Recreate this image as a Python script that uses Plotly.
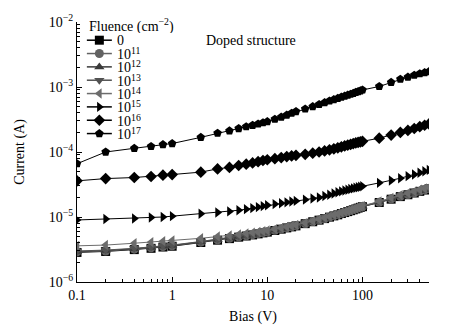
import plotly.graph_objects as go

bias = [0.1, 0.2, 0.4, 0.6, 0.8, 1, 2, 3, 4, 5, 6, 7, 8, 9, 10, 12, 14, 16, 18, 20,
        25, 30, 35, 40, 45, 50, 55, 60, 65, 70, 75, 80, 85, 90, 95, 100,
        150, 200, 250, 300, 350, 400, 450, 500]

i_0 = [2.85e-6, 2.95e-6, 3.15e-6, 3.3e-6, 3.45e-6, 3.55e-6, 4.05e-6, 4.4e-6, 4.65e-6, 4.9e-6,
       5.1e-6, 5.3e-6, 5.5e-6, 5.7e-6, 5.85e-6, 6.2e-6, 6.5e-6, 6.8e-6, 7.05e-6, 7.3e-6,
       7.9e-6, 8.45e-6, 8.95e-6, 9.45e-6, 9.95e-6, 1.04e-5, 1.08e-5, 1.13e-5, 1.17e-5, 1.21e-5,
       1.25e-5, 1.29e-5, 1.33e-5, 1.37e-5, 1.41e-5, 1.44e-5,
       1.67e-5, 1.88e-5, 2.06e-5, 2.2e-5, 2.34e-5, 2.48e-5, 2.6e-5, 2.72e-5]
i_1e11 = [2.9e-6, 3.0e-6, 3.2e-6, 3.35e-6, 3.5e-6, 3.6e-6, 4.1e-6, 4.45e-6, 4.7e-6, 4.95e-6,
          5.15e-6, 5.35e-6, 5.55e-6, 5.75e-6, 5.9e-6, 6.25e-6, 6.55e-6, 6.85e-6, 7.1e-6, 7.35e-6,
          7.95e-6, 8.5e-6, 9.0e-6, 9.5e-6, 1.0e-5, 1.05e-5, 1.09e-5, 1.14e-5, 1.18e-5, 1.22e-5,
          1.26e-5, 1.3e-5, 1.34e-5, 1.38e-5, 1.42e-5, 1.45e-5,
          1.68e-5, 1.9e-5, 2.08e-5, 2.22e-5, 2.36e-5, 2.5e-5, 2.62e-5, 2.75e-5]
i_1e12 = [2.95e-6, 3.05e-6, 3.25e-6, 3.4e-6, 3.55e-6, 3.65e-6, 4.15e-6, 4.5e-6, 4.75e-6, 5.0e-6,
          5.2e-6, 5.4e-6, 5.6e-6, 5.8e-6, 5.95e-6, 6.3e-6, 6.6e-6, 6.9e-6, 7.15e-6, 7.4e-6,
          8.0e-6, 8.55e-6, 9.05e-6, 9.55e-6, 1.005e-5, 1.055e-5, 1.1e-5, 1.15e-5, 1.19e-5, 1.23e-5,
          1.27e-5, 1.31e-5, 1.35e-5, 1.39e-5, 1.43e-5, 1.46e-5,
          1.7e-5, 1.92e-5, 2.1e-5, 2.25e-5, 2.4e-5, 2.54e-5, 2.66e-5, 2.78e-5]
i_1e13 = [3.0e-6, 3.1e-6, 3.3e-6, 3.45e-6, 3.6e-6, 3.7e-6, 4.2e-6, 4.55e-6, 4.8e-6, 5.05e-6,
          5.25e-6, 5.45e-6, 5.65e-6, 5.85e-6, 6.0e-6, 6.35e-6, 6.65e-6, 6.95e-6, 7.2e-6, 7.45e-6,
          8.05e-6, 8.6e-6, 9.1e-6, 9.6e-6, 1.01e-5, 1.06e-5, 1.1e-5, 1.15e-5, 1.19e-5, 1.23e-5,
          1.27e-5, 1.31e-5, 1.35e-5, 1.39e-5, 1.43e-5, 1.47e-5,
          1.71e-5, 1.94e-5, 2.12e-5, 2.28e-5, 2.42e-5, 2.56e-5, 2.68e-5, 2.8e-5]
i_1e14 = [3.6e-6, 3.7e-6, 3.95e-6, 4.1e-6, 4.25e-6, 4.35e-6, 4.7e-6, 5.0e-6, 5.2e-6, 5.4e-6,
          5.6e-6, 5.75e-6, 5.9e-6, 6.05e-6, 6.2e-6, 6.5e-6, 6.8e-6, 7.05e-6, 7.3e-6, 7.55e-6,
          8.1e-6, 8.7e-6, 9.2e-6, 9.7e-6, 1.02e-5, 1.07e-5, 1.11e-5, 1.16e-5, 1.2e-5, 1.24e-5,
          1.28e-5, 1.32e-5, 1.36e-5, 1.4e-5, 1.44e-5, 1.48e-5,
          1.74e-5, 1.97e-5, 2.16e-5, 2.32e-5, 2.47e-5, 2.62e-5, 2.74e-5, 2.86e-5]
i_1e15 = [9.0e-6, 9.3e-6, 9.5e-6, 9.8e-6, 1.0e-5, 1.03e-5, 1.12e-5, 1.17e-5, 1.22e-5, 1.27e-5,
          1.32e-5, 1.37e-5, 1.42e-5, 1.47e-5, 1.52e-5, 1.58e-5, 1.63e-5, 1.68e-5, 1.73e-5, 1.77e-5,
          1.85e-5, 1.93e-5, 2.0e-5, 2.1e-5, 2.2e-5, 2.3e-5, 2.4e-5, 2.48e-5, 2.56e-5, 2.63e-5,
          2.7e-5, 2.76e-5, 2.82e-5, 2.87e-5, 2.92e-5, 2.97e-5,
          3.35e-5, 3.65e-5, 3.95e-5, 4.25e-5, 4.5e-5, 4.8e-5, 5.05e-5, 5.3e-5]
i_1e16 = [3.6e-5, 3.9e-5, 4.05e-5, 4.2e-5, 4.4e-5, 4.5e-5, 4.9e-5, 5.5e-5, 5.8e-5, 6.2e-5,
          6.5e-5, 6.8e-5, 7.1e-5, 7.4e-5, 7.6e-5, 7.9e-5, 8.2e-5, 8.5e-5, 8.7e-5, 8.9e-5,
          9.2e-5, 9.6e-5, 1.0e-4, 1.04e-4, 1.08e-4, 1.12e-4, 1.16e-4, 1.2e-4, 1.24e-4, 1.28e-4,
          1.31e-4, 1.35e-4, 1.38e-4, 1.41e-4, 1.43e-4, 1.46e-4,
          1.63e-4, 1.82e-4, 2.0e-4, 2.15e-4, 2.3e-4, 2.45e-4, 2.58e-4, 2.7e-4]
i_1e17 = [6.6e-5, 1.0e-4, 1.14e-4, 1.22e-4, 1.3e-4, 1.35e-4, 1.68e-4, 1.95e-4, 2.12e-4, 2.3e-4,
          2.45e-4, 2.58e-4, 2.7e-4, 2.82e-4, 2.94e-4, 3.2e-4, 3.45e-4, 3.7e-4, 3.95e-4, 4.2e-4,
          4.6e-4, 5.0e-4, 5.4e-4, 5.75e-4, 6.1e-4, 6.4e-4, 6.7e-4, 7.0e-4, 7.25e-4, 7.5e-4,
          7.75e-4, 8.0e-4, 8.3e-4, 8.5e-4, 8.75e-4, 9.0e-4,
          1.02e-3, 1.18e-3, 1.32e-3, 1.42e-3, 1.52e-3, 1.6e-3, 1.67e-3, 1.73e-3]

series_names = ["0", "10<sup>11</sup>", "10<sup>12</sup>", "10<sup>13</sup>",
                "10<sup>14</sup>", "10<sup>15</sup>", "10<sup>16</sup>", "10<sup>17</sup>"]
series_values = [i_0, i_1e11, i_1e12, i_1e13, i_1e14, i_1e15, i_1e16, i_1e17]
series_symbols = ["square", "circle", "triangle-up", "triangle-down", "triangle-left",
                  "triangle-right", "diamond", "pentagon"]
series_colors = ["#000000", "#626262", "#3a3a3a", "#525252", "#6c6c6c",
                 "#000000", "#000000", "#000000"]

x_tick_vals = [0.1, 1, 10, 100]
x_tick_text = ["0.1", "1", "10", "100"]
x_minor_vals = [0.2, 0.3, 0.4, 0.5, 0.6, 0.7, 0.8, 0.9, 2, 3, 4, 5, 6, 7, 8, 9,
                20, 30, 40, 50, 60, 70, 80, 90, 200, 300, 400, 500]
y_tick_vals = [1e-6, 1e-5, 1e-4, 1e-3, 1e-2]
y_tick_text = ["10<sup>\u22126</sup>", "10<sup>\u22125</sup>", "10<sup>\u22124</sup>",
               "10<sup>\u22123</sup>", "10<sup>\u22122</sup>"]
y_minor_vals = [m * 10.0 ** e for e in range(-6, -2) for m in range(2, 10)]

FONT = "Liberation Serif"

# compact legend layout (fractions of the plot area)
LEG_TITLE_Y = 0.985
LEG_ROW0_Y = 0.930
LEG_ROW_STEP = 0.0513
LEG_LINE_X0, LEG_LINE_X1, LEG_MARK_X = 0.028, 0.099, 0.0635
LEG_TEXT_X = 0.108

fig = go.Figure()
for name, vals, sym, col in zip(series_names, series_values, series_symbols, series_colors):
    fig.add_trace(go.Scatter(
        x=bias, y=vals, name=name, mode="lines+markers", showlegend=False,
        line=dict(color=col, width=1),
        marker=dict(symbol=sym, size=9, color=col, line=dict(width=0)),
    ))

for k, (name, sym, col) in enumerate(zip(series_names, series_symbols, series_colors)):
    yk = LEG_ROW0_Y - k * LEG_ROW_STEP
    fig.add_shape(type="line", xref="x domain", yref="y domain",
                  x0=LEG_LINE_X0, x1=LEG_LINE_X1, y0=yk, y1=yk,
                  line=dict(color=col, width=1.5))
    fig.add_trace(go.Scatter(
        x=[LEG_MARK_X], y=[yk], xaxis="x2", yaxis="y2", mode="markers", showlegend=False,
        marker=dict(symbol=sym, size=9, color=col, line=dict(width=0)), hoverinfo="skip",
    ))
    fig.add_annotation(text=name, xref="x domain", yref="y domain", x=LEG_TEXT_X, y=yk,
                       xanchor="left", yanchor="middle", showarrow=False, height=13,
                       font=dict(family=FONT, size=14, color="black"))

fig.add_annotation(text="Fluence (cm<sup>\u22122</sup>)", xref="x domain", yref="y domain",
                   x=0.028, y=LEG_TITLE_Y, xanchor="left", yanchor="middle", showarrow=False,
                   height=15, font=dict(family=FONT, size=14, color="black"))

fig.add_annotation(
    text="Doped structure", xref="paper", yref="paper", x=0.36, y=0.93,
    xanchor="left", yanchor="middle", showarrow=False,
    font=dict(family=FONT, size=14, color="black"),
)

axis_common = dict(
    showgrid=False, zeroline=False, showline=True, linecolor="black", linewidth=1,
    ticks="inside", ticklen=5, tickcolor="black", mirror=False,
    tickfont=dict(family=FONT, size=14, color="black"),
)

fig.update_layout(
    width=458, height=333,
    margin=dict(l=77, r=29, t=22, b=51),
    paper_bgcolor="white", plot_bgcolor="white",
    font=dict(family=FONT, size=14, color="black"),
    showlegend=False,
    xaxis=dict(
        type="log", range=[-1, 2.699], tickmode="array", tickvals=x_tick_vals, ticktext=x_tick_text,
        minor=dict(tickmode="array", tickvals=x_minor_vals, ticks="inside", ticklen=3, tickcolor="black"),
        title=dict(text="Bias (V)", font=dict(family=FONT, size=14, color="black"), standoff=9),
        **axis_common,
    ),
    yaxis=dict(
        type="log", range=[-6, -2], tickmode="array", tickvals=y_tick_vals, ticktext=y_tick_text,
        minor=dict(tickmode="array", tickvals=y_minor_vals, ticks="inside", ticklen=3, tickcolor="black"),
        title=dict(text="Current (A)", font=dict(family=FONT, size=14, color="black"), standoff=20),
        **axis_common,
    ),
    xaxis2=dict(overlaying="x", range=[0, 1], visible=False, fixedrange=True),
    yaxis2=dict(overlaying="y", range=[0, 1], visible=False, fixedrange=True),
)

fig.write_html("out.html")
